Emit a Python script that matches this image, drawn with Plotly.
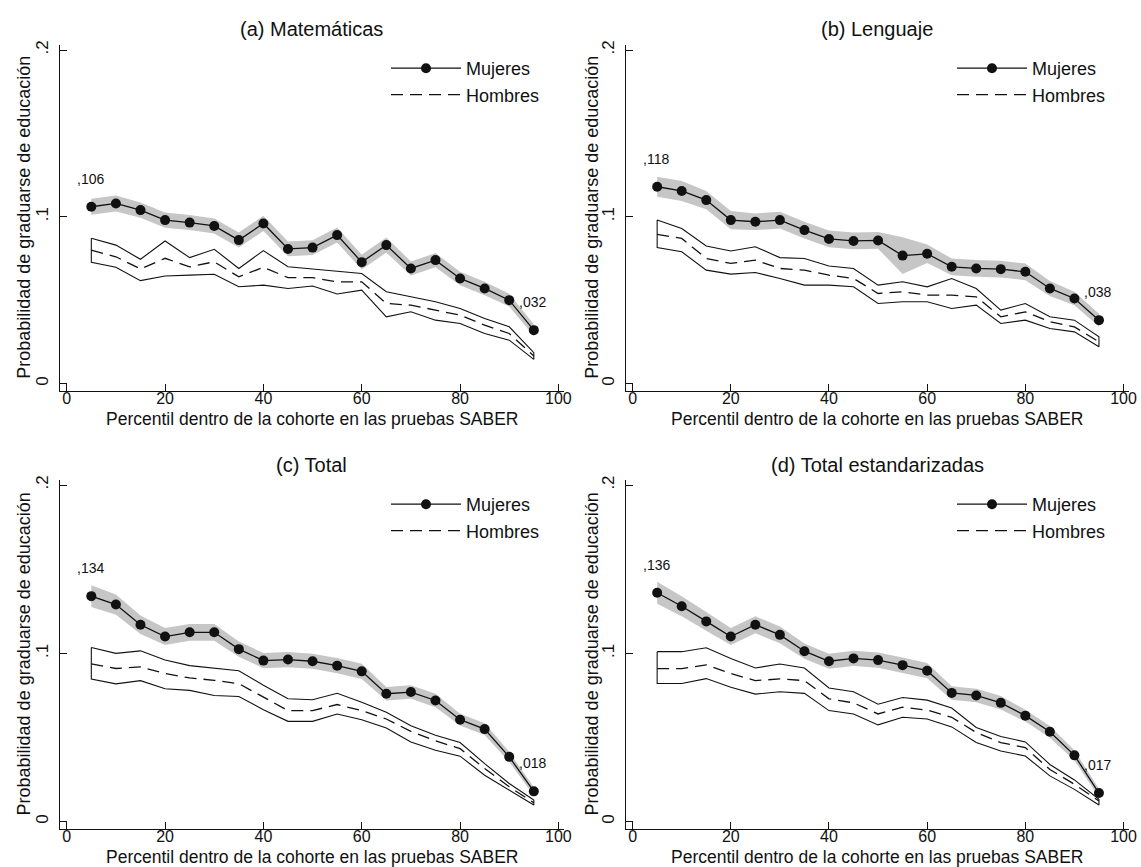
import numpy as np
import plotly.graph_objects as go

# ---------------- data ----------------
percentil = [5, 10, 15, 20, 25, 30, 35, 40, 45, 50, 55, 60, 65, 70, 75, 80, 85, 90, 95]
x_ticks = [0, 20, 40, 60, 80, 100]
y_ticks = [0, 0.1, 0.2]
y_ticktext = ["0", ".1", ".2"]

titulos = ["(a) Matemáticas", "(b) Lenguaje", "(c) Total", "(d) Total estandarizadas"]

# (a) Matemáticas
mat_mujeres = [0.106, 0.108, 0.104, 0.098, 0.0965, 0.0945, 0.086, 0.096, 0.0807, 0.0815, 0.089, 0.0728, 0.083, 0.069, 0.074, 0.063, 0.057, 0.050, 0.032]
mat_mujeres_ic = [0.0048, 0.0048, 0.0046, 0.0046, 0.0045, 0.0045, 0.0045, 0.0046, 0.0044, 0.0044, 0.0045, 0.0044, 0.0045, 0.0042, 0.0042, 0.0040, 0.0040, 0.0038, 0.0035]
mat_hombres = [0.080, 0.076, 0.0687, 0.0751, 0.070, 0.073, 0.064, 0.0697, 0.0635, 0.0635, 0.061, 0.061, 0.048, 0.047, 0.044, 0.041, 0.035, 0.030, 0.0165]
mat_hombres_sup = [0.0871, 0.083, 0.0745, 0.0855, 0.0755, 0.0805, 0.069, 0.0797, 0.070, 0.0687, 0.0675, 0.066, 0.055, 0.052, 0.049, 0.045, 0.039, 0.034, 0.0185]
mat_hombres_inf = [0.0727, 0.0697, 0.0617, 0.0645, 0.065, 0.0655, 0.058, 0.059, 0.057, 0.0585, 0.0537, 0.056, 0.040, 0.043, 0.038, 0.036, 0.030, 0.026, 0.0145]

# (b) Lenguaje
len_mujeres = [0.118, 0.1155, 0.110, 0.098, 0.097, 0.098, 0.092, 0.0867, 0.0855, 0.0858, 0.0767, 0.0778, 0.070, 0.069, 0.0686, 0.067, 0.057, 0.051, 0.038]
len_mujeres_ic = [0.006, 0.006, 0.0055, 0.0055, 0.005, 0.005, 0.005, 0.005, 0.005, 0.005, 0.011, 0.0055, 0.005, 0.005, 0.005, 0.005, 0.0045, 0.004, 0.0038]
len_hombres = [0.0895, 0.087, 0.075, 0.072, 0.074, 0.069, 0.068, 0.065, 0.063, 0.054, 0.055, 0.053, 0.053, 0.052, 0.040, 0.043, 0.037, 0.034, 0.025]
len_hombres_sup = [0.098, 0.093, 0.0825, 0.0795, 0.082, 0.0755, 0.075, 0.0705, 0.069, 0.059, 0.061, 0.058, 0.063, 0.057, 0.044, 0.048, 0.040, 0.038, 0.028]
len_hombres_inf = [0.0815, 0.079, 0.068, 0.0656, 0.0666, 0.063, 0.059, 0.059, 0.058, 0.048, 0.049, 0.049, 0.045, 0.047, 0.036, 0.038, 0.033, 0.031, 0.022]

# (c) Total
tot_mujeres = [0.134, 0.129, 0.117, 0.110, 0.1125, 0.1125, 0.1025, 0.0957, 0.0963, 0.0953, 0.0927, 0.0893, 0.076, 0.077, 0.072, 0.0606, 0.055, 0.0385, 0.018]
tot_mujeres_ic = [0.0065, 0.006, 0.0055, 0.005, 0.005, 0.005, 0.0045, 0.0045, 0.0045, 0.0045, 0.0045, 0.0045, 0.004, 0.004, 0.004, 0.0035, 0.0035, 0.003, 0.0025]
tot_hombres = [0.0937, 0.091, 0.092, 0.088, 0.0854, 0.084, 0.082, 0.074, 0.066, 0.066, 0.0696, 0.066, 0.061, 0.0536, 0.048, 0.0434, 0.0316, 0.0207, 0.0112]
tot_hombres_sup = [0.1035, 0.100, 0.1015, 0.096, 0.0927, 0.0913, 0.0897, 0.081, 0.073, 0.0724, 0.0763, 0.071, 0.065, 0.057, 0.0513, 0.047, 0.0345, 0.0227, 0.0128]
tot_hombres_inf = [0.0848, 0.0819, 0.0838, 0.079, 0.078, 0.075, 0.0744, 0.0665, 0.0596, 0.0596, 0.064, 0.0606, 0.0556, 0.0473, 0.0424, 0.0389, 0.0276, 0.0187, 0.0099]

# (d) Total estandarizadas
est_mujeres = [0.136, 0.128, 0.119, 0.110, 0.117, 0.111, 0.1013, 0.0953, 0.097, 0.096, 0.093, 0.0897, 0.0765, 0.075, 0.0706, 0.063, 0.0534, 0.0394, 0.017]
est_mujeres_ic = [0.0065, 0.006, 0.0055, 0.005, 0.005, 0.005, 0.0045, 0.0045, 0.0045, 0.0045, 0.0045, 0.0045, 0.004, 0.004, 0.004, 0.0035, 0.0035, 0.003, 0.0025]
est_hombres = [0.0909, 0.0909, 0.0932, 0.088, 0.0838, 0.0848, 0.0838, 0.073, 0.0706, 0.064, 0.068, 0.0663, 0.062, 0.053, 0.047, 0.044, 0.031, 0.0222, 0.0123]
est_hombres_sup = [0.101, 0.101, 0.1033, 0.097, 0.0913, 0.0937, 0.0913, 0.0794, 0.0772, 0.0698, 0.0738, 0.0722, 0.0675, 0.056, 0.0506, 0.0474, 0.034, 0.0248, 0.0133]
est_hombres_inf = [0.0821, 0.0821, 0.085, 0.0798, 0.0758, 0.0772, 0.0762, 0.066, 0.064, 0.0575, 0.062, 0.061, 0.0563, 0.047, 0.042, 0.039, 0.0272, 0.0192, 0.0099]

x_titulo = "Percentil dentro de la cohorte en las pruebas SABER"
y_titulo = "Probabilidad de graduarse de educación"

paneles = [
    (mat_mujeres, mat_mujeres_ic, mat_hombres, mat_hombres_sup, mat_hombres_inf),
    (len_mujeres, len_mujeres_ic, len_hombres, len_hombres_sup, len_hombres_inf),
    (tot_mujeres, tot_mujeres_ic, tot_hombres, tot_hombres_sup, tot_hombres_inf),
    (est_mujeres, est_mujeres_ic, est_hombres, est_hombres_sup, est_hombres_inf),
]

# ---------------- layout geometry ----------------
W, H = 1141, 867
FONT = "Liberation Sans, Arial, Helvetica, sans-serif"
GRAY = "#c6c6c6"
INK = "#111111"

x_dom = [[59.6 / W, 564.3 / W], [625.5 / W, 1129.4 / W]] * 2
y_dom = [[1 - 390.7 / H, 1 - 45 / H]] * 2 + [[1 - 828.9 / H, 1 - 480 / H]] * 2
title_y = [29, 29, 465, 465]
xtitle_y = [419, 419, 857, 857]
ytitle_x = [24, 592, 24, 592]
legend_left = [386, 952, 386, 952]
legend_top = [50, 50, 486, 486]

fig = go.Figure()
layout = dict(
    width=W, height=H,
    margin=dict(l=0, r=0, t=0, b=0, autoexpand=False),
    paper_bgcolor="white", plot_bgcolor="white",
    font=dict(family=FONT, color=INK, size=18),
    annotations=[],
)

xs = list(percentil)
for i, (muj, ic, hom, sup, inf) in enumerate(paneles):
    k = "" if i == 0 else str(i + 1)
    xa, ya, leg = "x" + k, "y" + k, "legend" + k
    muj_a = np.array(muj)
    ic_a = np.array(ic)
    up = list(muj_a + ic_a)
    lo = list(muj_a - ic_a)
    # women confidence band
    fig.add_trace(go.Scatter(
        x=xs + xs[::-1], y=up + lo[::-1], fill="toself", fillcolor=GRAY,
        mode="lines", line=dict(width=0, color=GRAY), hoverinfo="skip",
        showlegend=False, xaxis=xa, yaxis=ya))
    # men confidence interval (outlined area)
    fig.add_trace(go.Scatter(
        x=xs + xs[::-1] + [xs[0]], y=list(sup) + list(inf)[::-1] + [sup[0]],
        mode="lines", line=dict(color=INK, width=1.1), hoverinfo="skip",
        showlegend=False, xaxis=xa, yaxis=ya))
    # men mean
    fig.add_trace(go.Scatter(
        x=xs, y=hom, mode="lines", name="Hombres",
        line=dict(color=INK, width=1.3, dash="12px,7px"),
        legend=leg, legendgroup="h" + k, legendrank=2, xaxis=xa, yaxis=ya))
    # women mean
    fig.add_trace(go.Scatter(
        x=xs, y=muj, mode="lines+markers", name="Mujeres",
        line=dict(color=INK, width=1.3), marker=dict(size=10, color=INK),
        legend=leg, legendgroup="m" + k, legendrank=1, xaxis=xa, yaxis=ya))

    # value labels at first and last point
    for j in (0, len(xs) - 1):
        layout["annotations"].append(dict(
            x=xs[j], y=muj[j], xref=xa, yref=ya, text="," + f"{muj[j]:.3f}"[2:],
            showarrow=False, yshift=28, xshift=-1, font=dict(size=14, family=FONT, color=INK)))

    cx = (x_dom[i][0] + x_dom[i][1]) / 2
    cy = (y_dom[i][0] + y_dom[i][1]) / 2
    # panel title
    layout["annotations"].append(dict(
        x=cx, y=1 - title_y[i] / H, xref="paper", yref="paper",
        text=titulos[i], showarrow=False, xanchor="center", yanchor="middle",
        font=dict(size=20, family=FONT, color=INK)))
    # axis titles
    layout["annotations"].append(dict(
        x=cx, y=1 - xtitle_y[i] / H, xref="paper", yref="paper",
        text=x_titulo, showarrow=False, xanchor="center", yanchor="middle",
        font=dict(size=17.5, family=FONT, color=INK)))
    layout["annotations"].append(dict(
        x=ytitle_x[i] / W, y=cy, xref="paper", yref="paper", textangle=-90,
        text=y_titulo, showarrow=False, xanchor="center", yanchor="middle",
        font=dict(size=18, family=FONT, color=INK)))

    layout["xaxis" + k] = dict(
        domain=x_dom[i], anchor=ya, range=[-1.45, 101.2], tickvals=x_ticks,
        ticks="inside", ticklen=7, tickcolor=INK, tickwidth=1.1, ticklabelstandoff=-7,
        showline=True, linecolor=INK, linewidth=1.1, showgrid=False, zeroline=False,
        automargin=False, tickfont=dict(size=16, family=FONT, color=INK))
    layout["yaxis" + k] = dict(
        domain=y_dom[i], anchor=xa, range=[-0.0043, 0.203], tickvals=y_ticks, ticktext=y_ticktext,
        tickangle=-90, ticks="inside", ticklen=7, tickcolor=INK, tickwidth=1.1, ticklabelstandoff=4,
        showline=True, linecolor=INK, linewidth=1.1, showgrid=False, zeroline=False,
        automargin=False, tickfont=dict(size=17, family=FONT, color=INK))
    layout[leg] = dict(
        x=legend_left[i] / W, y=1 - legend_top[i] / H, xanchor="left", yanchor="top",
        xref="paper", yref="paper", bgcolor="rgba(0,0,0,0)", borderwidth=0,
        font=dict(size=18, family=FONT, color=INK), itemwidth=70, tracegroupgap=16,
        traceorder="normal")

fig.update_layout(**layout)
fig.write_html(
    "out.html",
    config={"displayModeBar": False},
    post_script="document.body.style.margin='0px';document.body.style.padding='0px';",
)
